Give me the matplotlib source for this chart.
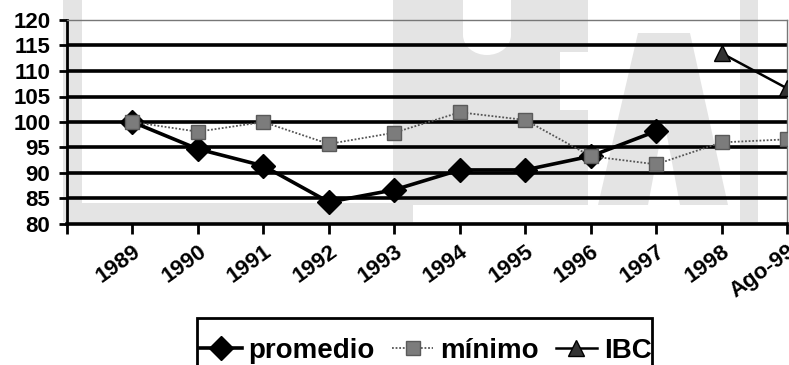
import matplotlib.pyplot as plt
from matplotlib.patches import Rectangle, Polygon, Ellipse
from matplotlib.lines import Line2D

years = ["1989", "1990", "1991", "1992", "1993", "1994", "1995",
         "1996", "1997", "1998", "Ago-99"]
promedio = [100, 94.7, 91.4, 84.3, 86.7, 90.6, 90.6, 93.3, 98.2, None, None]
minimo = [100, 98.1, 100, 95.7, 97.9, 101.9, 100.4, 93.3, 91.7, 96.0, 96.6]
ibc = [None, None, None, None, None, None, None, None, None, 113.5, 106.6]
yticks = [80, 85, 90, 95, 100, 105, 110, 115, 120]

plt.rcParams['font.family'] = ['Liberation Sans', 'DejaVu Sans']
plt.rcParams['font.weight'] = 'bold'

W, H = 789, 365
fig = plt.figure(figsize=(W / 100, H / 100), dpi=100)

# faint logo printed behind the chart, in pixel coords
bg = fig.add_axes([0, 0, 1, 1], zorder=0)
bg.set_xlim(0, W)
bg.set_ylim(H, 0)
bg.axis('off')
wm = '#e4e4e4'
bg.add_patch(Rectangle((63, 0), 350, 222, color=wm, lw=0))
bg.add_patch(Rectangle((82, 0), 311, 203, color='white', lw=0))
bg.add_patch(Rectangle((413, 0), 175, 205, color=wm, lw=0))
bg.add_patch(Rectangle((463, 0), 48, 35, color='white', lw=0))
bg.add_patch(Ellipse((487, 35), 48, 40, color='white', lw=0))
bg.add_patch(Rectangle((560, 52), 28, 58, color='white', lw=0))
bg.add_patch(Polygon([(598, 205), (638, 33), (690, 33), (728, 205)],
                     closed=True, color=wm, lw=0))
bg.add_patch(Polygon([(648, 205), (664, 120), (680, 205)],
                     closed=True, color='white', lw=0))
bg.add_patch(Rectangle((740, 0), 18, 222, color=wm, lw=0))
# legend box
bg.add_patch(Rectangle((197, 318), 455, 60, facecolor='white',
                       edgecolor='black', lw=2, zorder=2))

# title sits above the page edge, only the brackets' tails show
fig.text(550 / W, 1 + 5 / H, "(1989=100)", ha='center', va='baseline',
         fontsize=17, fontweight='bold')

ax = fig.add_axes([67 / W, 1 - 224 / H, 720 / W, 204 / H], zorder=1)
ax.set_facecolor('none')

x = list(range(1, len(years) + 1))

for v in yticks[1:-1]:
    ax.axhline(v, color='black', lw=2.6, zorder=1)

prom_style = dict(color='black', lw=2.6, marker='D', markersize=12,
                  markerfacecolor='black', markeredgecolor='black')
min_style = dict(color='#555555', lw=1.3, linestyle=(0, (1, 1)),
                 marker='s', markersize=10, markerfacecolor='#7c7c7c',
                 markeredgecolor='#5a5a5a')
ibc_style = dict(color='black', lw=1.8, marker='^', markersize=12,
                 markerfacecolor='#333333', markeredgecolor='black')

ax.plot(x, promedio, zorder=3, **prom_style)
ax.plot(x, minimo, zorder=4, **min_style)
ax.plot(x, ibc, zorder=3, **ibc_style)

ax.set_xlim(0, len(years))
ax.set_ylim(80, 120)
ax.set_yticks(yticks)
ax.set_yticklabels([str(v) for v in yticks], fontsize=16, fontweight='bold')
ax.set_xticks(range(0, len(years) + 1))
ax.set_xticklabels([""] + years, fontsize=16, fontweight='bold',
                   rotation=36, ha='right', va='top', rotation_mode='anchor')

ax.tick_params(axis='y', direction='out', length=6, width=2, pad=6)
ax.tick_params(axis='x', direction='out', length=7, width=2, pad=5)

ax.spines['left'].set_linewidth(2)
ax.spines['bottom'].set_linewidth(2.6)
for s in ['top', 'right']:
    ax.spines[s].set_color('#777777')
    ax.spines[s].set_linewidth(1)
    ax.spines[s].set_linestyle((0, (1, 1)))

handles = [Line2D([], [], **prom_style),
           Line2D([], [], **min_style),
           Line2D([], [], **ibc_style)]
leg = fig.legend(handles, ['promedio', 'mínimo', 'IBC'], ncol=3,
                 loc='center', bbox_to_anchor=(426 / W, 1 - 351 / H),
                 prop={'weight': 'bold', 'size': 20}, frameon=False,
                 handlelength=1.5, handletextpad=0.25, columnspacing=0.6,
                 borderpad=0, borderaxespad=0)

fig.savefig('out.png', dpi=100)
